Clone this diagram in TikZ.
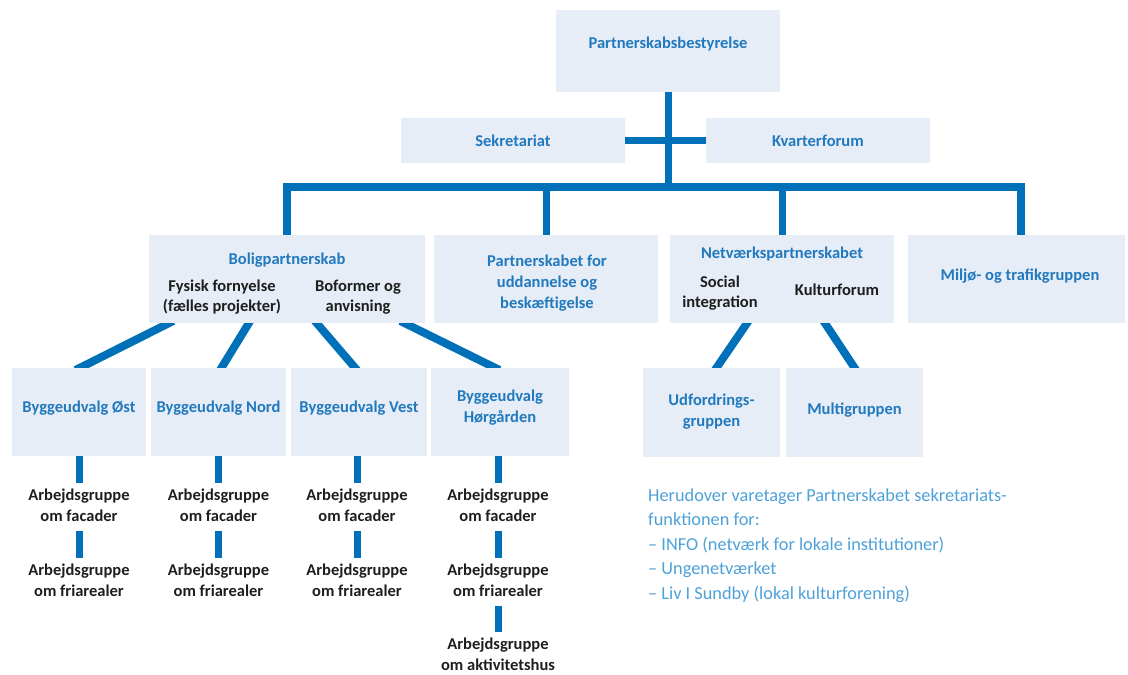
\documentclass[tikz,border=0pt]{standalone}
\usepackage{fontspec}
\setmainfont{Carlito}
\usetikzlibrary{backgrounds}
\definecolor{boxfill}{HTML}{E6EDF7}
\definecolor{linecol}{HTML}{0070B9}
\definecolor{titlecol}{HTML}{2179BE}
\definecolor{infocol}{HTML}{4DA1D8}
\definecolor{subcol}{HTML}{1E1E1E}
\tikzset{
  box/.style={fill=boxfill, draw=none, inner sep=0pt},
  ttl/.style={text=titlecol, font=\bfseries\fontsize{16.5}{21}\selectfont, align=center, inner sep=0pt},
  sub/.style={text=subcol, font=\bfseries\fontsize{16.5}{20.5}\selectfont, align=center, inner sep=0pt},
  wg/.style={text=subcol, font=\bfseries\fontsize{16.5}{21}\selectfont, align=center, inner xsep=0pt, inner ysep=3pt, anchor=north},
  info/.style={text=infocol, font=\fontsize{18.3}{24.5}\selectfont, align=left, inner sep=0pt, anchor=north west},
  conn/.style={draw=linecol, line width=7pt},
  diag/.style={draw=linecol, line width=8pt, shorten <=-5pt, shorten >=-5pt},
}
\begin{document}
\begin{tikzpicture}[x=1pt,y=-1pt]
\useasboundingbox (0,0) rectangle (1128,675);
% boxes
\node[box, minimum width=224pt, minimum height=82pt] (top) at (668,51) {};
\node[box, minimum width=224pt, minimum height=45pt] (sek) at (513,140.5) {};
\node[box, minimum width=224pt, minimum height=45pt] (kv) at (818,140.5) {};
\node[box, minimum width=276pt, minimum height=88pt] (bolig) at (287,279) {};
\node[box, minimum width=224pt, minimum height=88pt] (uddan) at (546,279) {};
\node[box, minimum width=224pt, minimum height=88pt] (netv) at (782,279) {};
\node[box, minimum width=217pt, minimum height=88pt] (miljo) at (1016.5,279) {};
\node[box, minimum width=134pt, minimum height=88pt] (byg1) at (79,412) {};
\node[box, minimum width=135pt, minimum height=88pt] (byg2) at (218.5,412) {};
\node[box, minimum width=136pt, minimum height=88pt] (byg3) at (359,412) {};
\node[box, minimum width=138pt, minimum height=88pt] (byg4) at (500,412) {};
\node[box, minimum width=137pt, minimum height=89pt] (udf) at (711.5,412.5) {};
\node[box, minimum width=137pt, minimum height=89pt] (multi) at (854.5,412.5) {};
% box texts
\node[ttl] (ttop) at (668,44) {Partnerskabsbestyrelse};
\node[ttl] (tsek) at (513,141) {Sekretariat};
\node[ttl] (tkv) at (818,141) {Kvarterforum};
\node[ttl] (tbolig) at (287,260) {Boligpartnerskab};
\node[sub] (tfys) at (222,297) {Fysisk fornyelse\\(fælles projekter)};
\node[sub] (tbof) at (358,297) {Boformer og\\anvisning};
\node[ttl] (tuddan) at (547,283) {Partnerskabet for\\uddannelse og\\beskæftigelse};
\node[ttl] (tnetv) at (782,254) {Netværkspartnerskabet};
\node[sub] (tsoc) at (720,293) {Social\\integration};
\node[sub] (tkul) at (837,290) {Kulturforum};
\node[ttl] (tmiljo) at (1020,276) {Miljø- og trafikgruppen};
\node[ttl] (tbyg1) at (79,408) {Byggeudvalg Øst};
\node[ttl] (tbyg2) at (218.5,408) {Byggeudvalg Nord};
\node[ttl] (tbyg3) at (359,408) {Byggeudvalg Vest};
\node[ttl] (tbyg4) at (500,408) {Byggeudvalg\\Hørgården};
\node[ttl] (tudf) at (711.5,412) {Udfordrings-\\gruppen};
\node[ttl] (tmulti) at (854.5,410) {Multigruppen};
% working groups
\node[wg] (w11) at (79,483) {\strut Arbejdsgruppe\\om facader\strut};
\node[wg] (w12) at (79,558) {\strut Arbejdsgruppe\\om friarealer\strut};
\node[wg] (w21) at (218.5,483) {\strut Arbejdsgruppe\\om facader\strut};
\node[wg] (w22) at (218.5,558) {\strut Arbejdsgruppe\\om friarealer\strut};
\node[wg] (w31) at (357,483) {\strut Arbejdsgruppe\\om facader\strut};
\node[wg] (w32) at (357,558) {\strut Arbejdsgruppe\\om friarealer\strut};
\node[wg] (w41) at (498,483) {\strut Arbejdsgruppe\\om facader\strut};
\node[wg] (w42) at (498,558) {\strut Arbejdsgruppe\\om friarealer\strut};
\node[wg] (w43) at (498,632) {\strut Arbejdsgruppe\\om aktivitetshus\strut};
% info text
\node[info] (info) at (648,484) {\strut Herudover varetager Partnerskabet sekretariats-\\funktionen for:\\– INFO (netværk for lokale institutioner)\\– Ungenetværket\\– Liv I Sundby (lokal kulturforening)};
% connectors
\coordinate (bus) at (0,187);
\begin{pgfonlayer}{background}
\draw[conn] (top.south) -- (top.south |- bus);
\draw[conn] (sek.east) -- (kv.west);
\draw[conn, line width=8pt, line join=miter, shorten <=-3pt, shorten >=-3pt] (bolig.north) -- (bolig.north |- bus) -- ([xshift=4pt]miljo.north |- bus) -- ([xshift=4pt]miljo.north);
\draw[conn, shorten >=-3pt] (uddan.north |- bus) -- (uddan.north);
\draw[conn, shorten >=-3pt] (netv.north |- bus) -- (netv.north);
\draw[diag] ([xshift=20pt]bolig.south west) -- ([xshift=1pt]byg1.north);
\draw[diag] ([xshift=100pt]bolig.south west) -- ([xshift=3pt]byg2.north);
\draw[diag] ([xshift=168pt]bolig.south west) -- ([xshift=-4pt]byg3.north);
\draw[diag] ([xshift=256pt]bolig.south west) -- ([xshift=-5pt]byg4.north);
\draw[diag] ([xshift=-35pt]netv.south) -- ([xshift=5pt]udf.north);
\draw[diag] ([xshift=43pt]netv.south) -- (multi.north);
\end{pgfonlayer}
\draw[conn] (byg1.south) -- (w11.north);
\draw[conn] (w11.south) -- (w12.north);
\draw[conn] ([xshift=-0.5pt]byg2.south) -- ([xshift=-0.5pt]w21.north);
\draw[conn] (w21.south) -- (w22.north);
\draw[conn] (byg3.south -| w31.north) -- (w31.north);
\draw[conn] (w31.south) -- (w32.north);
\draw[conn] (byg4.south -| w41.north) -- (w41.north);
\draw[conn] (w41.south) -- (w42.north);
\draw[conn] (w42.south) -- (w43.north);
\end{tikzpicture}
\end{document}
